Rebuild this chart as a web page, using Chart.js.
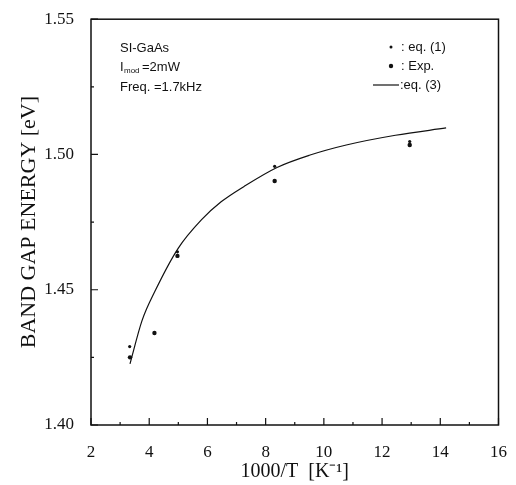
<!DOCTYPE html>
<html>
<head>
<meta charset="utf-8">
<script src="https://cdn.jsdelivr.net/npm/chart.js@4.4.1/dist/chart.umd.min.js"></script>
<style>
  html, body { margin: 0; padding: 0; background: #fff; }
  #wrap { width: 516px; height: 485px; }
</style>
</head>
<body>
<div id="wrap"><canvas id="gapChart" width="516" height="485"></canvas></div>
<script>
    // axis ticks
    const xTicks = [2, 4, 6, 8, 10, 12, 14, 16];
    const yTicks = [1.40, 1.45, 1.50, 1.55];

    // eq. (1) - small dots
    const eq1X = [3.33, 4.97, 8.31, 12.95];
    const eq1Y = [1.429, 1.464, 1.4956, 1.5048];

    // Exp. - bigger dots
    const expX = [3.34, 4.18, 4.97, 8.31, 12.95];
    const expY = [1.425, 1.434, 1.4625, 1.4902, 1.5035];

    // eq. (3) - fitted curve
    const eq3X = [3.34, 3.75, 4.2, 5.0, 5.79, 6.47, 7.26, 8.39, 9.5, 10.77, 12.46, 14.2];
    const eq3Y = [1.4226, 1.4385, 1.4495, 1.4654, 1.4758, 1.4825, 1.4882, 1.4952, 1.4997, 1.5035, 1.5071, 1.5098];

    const toPoints = (xs, ys) => xs.map((x, i) => ({ x: x, y: ys[i] }));

    const serif = '"Liberation Serif", "Times New Roman", serif';
    const sans = '"Liberation Sans", Arial, sans-serif';
    const ink = '#111';

    const framePlugin = {
        id: 'frame',
        afterDraw(chart) {
            const { ctx, chartArea: a, scales: { x, y } } = chart;
            ctx.save();
            ctx.strokeStyle = ink;
            ctx.lineWidth = 1.5;
            ctx.strokeRect(a.left, a.top, a.right - a.left, a.bottom - a.top);

            // inward tick marks
            ctx.lineWidth = 1.2;
            ctx.beginPath();
            xTicks.forEach((v, i) => {
                const px = x.getPixelForValue(v);
                ctx.moveTo(px, a.bottom); ctx.lineTo(px, a.bottom - 7);
                if (i < xTicks.length - 1) {
                    const mx = x.getPixelForValue((v + xTicks[i + 1]) / 2);
                    ctx.moveTo(mx, a.bottom); ctx.lineTo(mx, a.bottom - 3);
                }
            });
            yTicks.forEach((v, i) => {
                const py = y.getPixelForValue(v);
                ctx.moveTo(a.left, py); ctx.lineTo(a.left + 7, py);
                if (i < yTicks.length - 1) {
                    const my = y.getPixelForValue((v + yTicks[i + 1]) / 2);
                    ctx.moveTo(a.left, my); ctx.lineTo(a.left + 3, my);
                }
            });
            ctx.stroke();

            // sample notes, top left
            ctx.fillStyle = ink;
            ctx.textBaseline = 'middle';
            ctx.textAlign = 'left';
            ctx.font = '13px ' + sans;
            ctx.fillText('SI-GaAs', 120, 48);
            ctx.fillText('I', 120, 67);
            ctx.font = '8px ' + sans;
            ctx.fillText('mod', 124, 71);
            ctx.font = '13px ' + sans;
            ctx.fillText('=2mW', 142, 67);
            ctx.fillText('Freq. =1.7kHz', 120, 87);

            // legend, top right
            ctx.beginPath();
            ctx.arc(391, 47, 1.5, 0, Math.PI * 2);
            ctx.fill();
            ctx.beginPath();
            ctx.arc(391, 66, 2.2, 0, Math.PI * 2);
            ctx.fill();
            ctx.lineWidth = 1.2;
            ctx.beginPath();
            ctx.moveTo(373, 85); ctx.lineTo(399, 85);
            ctx.stroke();
            ctx.fillText(': eq. (1)', 401, 47);
            ctx.fillText(': Exp.', 401, 66);
            ctx.fillText(':eq. (3)', 400, 85);
            ctx.restore();
        }
    };

    function createChart() {
        const ctx = document.getElementById('gapChart').getContext('2d');
        new Chart(ctx, {
            type: 'scatter',
            data: {
                datasets: [
                    {
                        label: 'eq. (3)',
                        data: toPoints(eq3X, eq3Y),
                        showLine: true,
                        borderColor: ink,
                        borderWidth: 1.2,
                        pointRadius: 0,
                        cubicInterpolationMode: 'monotone',
                        fill: false
                    },
                    {
                        label: 'eq. (1)',
                        data: toPoints(eq1X, eq1Y),
                        pointRadius: 1.6,
                        pointBorderWidth: 0,
                        pointBackgroundColor: ink,
                        showLine: false
                    },
                    {
                        label: 'Exp.',
                        data: toPoints(expX, expY),
                        pointRadius: 2.2,
                        pointBorderWidth: 0,
                        pointBackgroundColor: ink,
                        showLine: false
                    }
                ]
            },
            options: {
                responsive: false,
                animation: false,
                devicePixelRatio: 1,
                layout: { padding: { top: 16, right: 12, left: 0, bottom: 0 } },
                scales: {
                    x: {
                        type: 'linear',
                        min: 2,
                        max: 16,
                        afterBuildTicks: s => { s.ticks = xTicks.map(v => ({ value: v })); },
                        afterFit: s => { s.height = 60; },
                        grid: { display: false },
                        border: { display: false },
                        ticks: {
                            color: ink,
                            padding: 9,
                            font: { family: serif, size: 17 }
                        },
                        title: {
                            display: true,
                            text: '1000/T  [K\u207B\u00B9]',
                            color: ink,
                            font: { family: serif, size: 20 },
                            padding: { top: 0, bottom: 1 }
                        }
                    },
                    y: {
                        type: 'linear',
                        min: 1.40,
                        max: 1.55,
                        afterBuildTicks: s => { s.ticks = yTicks.map(v => ({ value: v })); },
                        afterFit: s => { s.width = 91; },
                        grid: { display: false },
                        border: { display: false },
                        ticks: {
                            color: ink,
                            padding: 9,
                            font: { family: serif, size: 17 },
                            callback: v => v.toFixed(2)
                        },
                        title: {
                            display: true,
                            text: 'BAND GAP ENERGY [eV]',
                            color: ink,
                            font: { family: serif, size: 22 },
                            padding: { top: 16, bottom: 0 }
                        }
                    }
                },
                plugins: {
                    legend: { display: false },
                    tooltip: { enabled: false }
                }
            },
            plugins: [framePlugin]
        });
    }

    window.onload = createChart;
</script>
</body>
</html>
